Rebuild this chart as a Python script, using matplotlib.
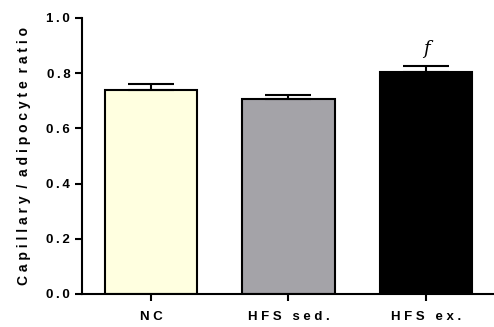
import numpy as np
import matplotlib.pyplot as plt

# Kapillar/Adipozyten-Verhältnis
groups = ['NC', 'HFS sed.', 'HFS ex.']
means = [0.739, 0.707, 0.804]
sem = [0.022, 0.013, 0.022]
colors = ['#FFFFE0', '#A4A3A8', '#000000']
yticks = [0.0, 0.2, 0.4, 0.6, 0.8, 1.0]


def spaced(s, sep=' '):
    # Buchstaben sperren, Wortabstand verdoppeln
    return '   '.join(sep.join(w) for w in s.split(' '))


plt.rcParams['font.family'] = ['Liberation Sans', 'DejaVu Sans']
fig = plt.figure(figsize=(4.94, 3.27), dpi=100)
ax = fig.add_axes([0.166, 0.101, 0.834, 0.844])

x = np.arange(len(groups))
ax.bar(x, means, width=0.67, color=colors, edgecolor='black', linewidth=1.5, zorder=2)
ax.errorbar(x, means, yerr=[np.zeros(3), sem], fmt='none', ecolor='black',
            elinewidth=1.5, capsize=16.5, capthick=1.5, zorder=3)
ax.text(2, means[2] + sem[2] + 0.03, 'f', ha='center', va='bottom',
        fontsize=13, fontstyle='italic', family='DejaVu Serif')

ax.set_xlim(-0.502, 2.495)
ax.set_ylim(0, 1.0)
ax.set_yticks(yticks)
ax.set_yticklabels([spaced(f'{v:.1f}', '\u2009') for v in yticks])
ax.set_xticks(x)
ax.set_xticklabels([spaced(g) for g in groups])
ax.set_ylabel(spaced('Capillary / adipocyte ratio').replace('   ', '  '),
              fontsize=10, fontweight='bold', labelpad=11)

for lab in ax.get_xticklabels() + ax.get_yticklabels():
    lab.set_fontweight('bold')
    lab.set_fontsize(9.5)

ax.spines['top'].set_visible(False)
ax.spines['right'].set_visible(False)
ax.spines['left'].set_linewidth(1.5)
ax.spines['bottom'].set_linewidth(1.5)
ax.tick_params(axis='both', width=1.5, length=5, direction='out')
ax.tick_params(axis='x', pad=7)

fig.savefig('out.png', dpi=100)
